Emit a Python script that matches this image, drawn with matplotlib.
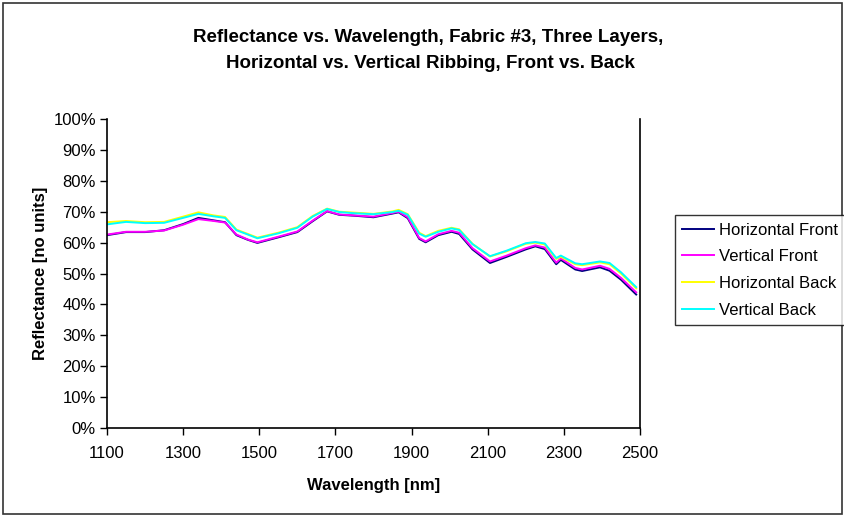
import numpy as np
import matplotlib
matplotlib.use("Agg")
import matplotlib.pyplot as plt
from matplotlib.patches import Rectangle
from matplotlib.ticker import PercentFormatter

plt.rcParams['font.family'] = ['Liberation Sans', 'DejaVu Sans']

# wavelength [nm] and reflectance [%]
wl = [1100, 1150, 1200, 1250, 1300, 1340, 1380, 1410, 1440, 1470, 1495, 1550,
      1600, 1640, 1678, 1710, 1750, 1800, 1850, 1866, 1890, 1920, 1937, 1970,
      2005, 2025, 2060, 2106, 2150, 2200, 2225, 2250, 2280, 2292, 2330, 2348,
      2395, 2420, 2450, 2490]
horiz_front = [62.4, 63.4, 63.4, 64.0, 66.0, 68.0, 67.2, 66.6, 62.4, 60.9, 59.9, 61.7,
               63.4, 66.9, 70.1, 69.0, 68.7, 68.2, 69.4, 69.8, 67.9, 61.2, 60.1, 62.4,
               63.5, 62.8, 57.8, 53.4, 55.4, 57.8, 58.8, 57.9, 53.0, 54.4, 51.3, 50.8,
               52.0, 50.9, 48.0, 43.2]
vert_front = [62.6, 63.5, 63.5, 63.9, 65.8, 67.6, 67.0, 66.5, 62.6, 61.0, 60.1, 61.9,
              63.6, 67.1, 70.2, 69.1, 68.8, 68.4, 69.6, 70.0, 68.2, 61.5, 60.4, 62.7,
              63.8, 63.2, 58.2, 53.9, 55.8, 58.2, 59.1, 58.4, 53.5, 54.9, 51.8, 51.3,
              52.5, 51.5, 48.6, 43.9]
horiz_back = [66.6, 67.0, 66.6, 66.7, 68.4, 69.8, 68.8, 68.3, 64.2, 62.8, 61.6, 63.2,
              65.0, 68.6, 71.0, 70.0, 69.7, 69.3, 70.1, 70.6, 69.2, 63.2, 62.1, 63.8,
              64.8, 64.3, 59.6, 55.5, 57.2, 59.6, 60.0, 59.4, 54.7, 55.4, 53.0, 52.7,
              53.6, 53.0, 50.0, 45.2]
vert_back = [65.9, 66.7, 66.3, 66.4, 68.0, 69.3, 68.5, 68.0, 64.0, 62.6, 61.4, 63.0,
             64.8, 68.4, 70.9, 69.9, 69.5, 69.2, 69.9, 70.3, 69.0, 62.9, 61.9, 63.5,
             64.6, 64.1, 59.5, 55.6, 57.4, 59.8, 60.2, 59.7, 55.0, 55.8, 53.3, 53.0,
             53.9, 53.4, 50.4, 45.6]

series = [
    ('Horizontal Front', horiz_front, '#000080'),
    ('Vertical Front', vert_front, '#FF00FF'),
    ('Horizontal Back', horiz_back, '#FFFF00'),
    ('Vertical Back', vert_back, '#00FFFF'),
]

fig = plt.figure(figsize=(8.45, 5.17), dpi=100)
ax = fig.add_axes([107/845, 1-428/517, (640-107)/845, (428-119)/517])

for name, vals, col in series:
    ax.plot(wl, vals, color=col, lw=1.4, label=name)

ax.set_xlim(1100, 2500)
ax.set_ylim(0, 100)
ax.set_xticks(np.arange(1100, 2501, 200))
ax.set_yticks(np.arange(0, 101, 10))
ax.yaxis.set_major_formatter(PercentFormatter(decimals=0))
ax.tick_params(direction='out', length=5, width=1, labelsize=12)
ax.tick_params(axis='x', pad=8)
ax.tick_params(axis='y', pad=3)
ax.spines['top'].set_visible(False)
for s in ['left', 'bottom', 'right']:
    ax.spines[s].set_linewidth(1.2)

ax.set_xlabel('Wavelength [nm]', fontsize=12, fontweight='bold', labelpad=12)
ax.set_ylabel('Reflectance [no units]', fontsize=12, fontweight='bold', labelpad=4)

fig.text(428/845, 1-37/517, 'Reflectance vs. Wavelength, Fabric #3, Three Layers,',
         ha='center', va='center', fontsize=13.5, fontweight='bold')
fig.text(430/845, 1-64/517, 'Horizontal vs. Vertical Ribbing, Front vs. Back',
         ha='center', va='center', fontsize=13.5, fontweight='bold')

leg = fig.legend(loc='upper left', bbox_to_anchor=(675/845, 1-215/517),
                 fontsize=12, frameon=True, fancybox=False, edgecolor='black',
                 handlelength=1.9, handletextpad=0.3, labelspacing=0.7,
                 borderpad=0.45, borderaxespad=0)
leg.get_frame().set_linewidth(1.0)

fig.patches.append(Rectangle((3/845, 3/517), 839/845, 511/517, transform=fig.transFigure,
                             fill=False, edgecolor='#333333', lw=1.2))

fig.savefig('out.png', dpi=100)
